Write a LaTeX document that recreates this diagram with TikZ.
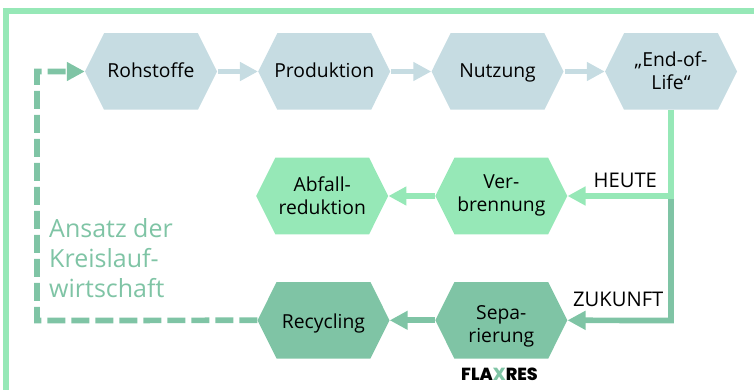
\documentclass[tikz,border=0pt]{standalone}
\usepackage{fontspec}
\setmainfont{Open Sans}
\newfontfamily\logofont{Poppins ExtraBold}
\usetikzlibrary{shapes.symbols,arrows.meta}
\definecolor{bluegrey}{HTML}{C6DCE2}
\definecolor{lightgreen}{HTML}{96E8B7}
\definecolor{darkgreen}{HTML}{7FC4A5}
\tikzset{
  x=1pt,y=-1pt,
  hexbox/.style={shape=signal,signal to=west and east,signal pointer angle=127,
    minimum width=132pt,minimum height=76.5pt,inner sep=0pt,align=center,draw=none,
    text depth=0pt,text height=#1,
    font=\fontsize{19.3}{23}\selectfont},
  flow/.style={line width=5.7pt,-{Triangle[length=18pt,width=18pt]}},
  plain/.style={line width=5.7pt},
  lbl/.style={inner sep=0pt,anchor=base west,font=\fontsize{20.2}{22}\selectfont},
}
\begin{document}
\begin{tikzpicture}[line cap=butt,line join=miter]
\useasboundingbox (0,0) rectangle (754,390);
% frame
\draw[lightgreen,line width=5.5pt] (6,390) -- (6,11) -- (754,11);
% hexagons
\node[hexbox=12.4pt,fill=bluegrey] (roh) at (151,71.5) {Rohstoffe};
\node[hexbox=12.4pt,fill=bluegrey] (pro) at (324.2,71.5) {\makebox[88pt][c]{Produktion}};
\node[hexbox=12.4pt,fill=bluegrey] (nut) at (497.5,71.5) {Nutzung};
\node[hexbox=37pt,fill=bluegrey] (end) at (671,71.5) {„End-of-\\Life“};
\node[hexbox=37pt,fill=lightgreen] (abf) at (322.2,196) {Abfall-\\reduktion};
\node[hexbox=30.4pt,fill=lightgreen] (ver) at (501.3,196) {Ver-\\brennung};
\node[hexbox=16.8pt,fill=darkgreen] (rec) at (323.5,320.3) {Recycling};
\node[hexbox=43.4pt,fill=darkgreen] (sep) at (501.3,320.3) {Sepa-\\rierung};
% corners
\coordinate (turnH) at (671,196);
\coordinate (turnZ) at (671,320.5);
\coordinate (dashA) at (37,320.5);
\coordinate (dashB) at (37,71.5);
% connectors
\draw[flow,bluegrey] (roh.east) ++(1,0) -- (pro.west);
\draw[flow,bluegrey] (pro.east) ++(1,0) -- (nut.west);
\draw[flow,bluegrey] (nut.east) ++(1,0) -- (end.west);
\draw[flow,lightgreen] (ver.west) -- (abf.east);
\draw[flow,darkgreen] (sep.west) -- (rec.east);
\draw[plain,darkgreen] (turnH) -- (turnZ);
\draw[flow,darkgreen] (turnZ) ++(2.85,0) -- (sep.east);
\draw[plain,lightgreen] (end.south) -- (turnH);
\draw[flow,lightgreen] (turnH) ++(2.85,0) -- (ver.east);
\draw[flow,darkgreen,dash pattern=on 18pt off 6pt] (rec.west) -- (dashA) -- (dashB) -- (roh.west);
% labels
\node[lbl] (heute) at (593.5,187) {HEUTE};
\node[lbl] (zuk) at (573,306) {ZUKUNFT};
\node[inner sep=0pt,anchor=base west,align=left,text=darkgreen,font=\fontsize{25}{30}\selectfont] (ansatz) at (49,297) {Ansatz der\\Kreislauf-\\wirtschaft};
\node[inner sep=0pt,anchor=base,font=\logofont\fontsize{17.5}{18}\selectfont] (logo) at (499.5,380) {FLA{\color{darkgreen}X}RES};
\end{tikzpicture}
\end{document}
